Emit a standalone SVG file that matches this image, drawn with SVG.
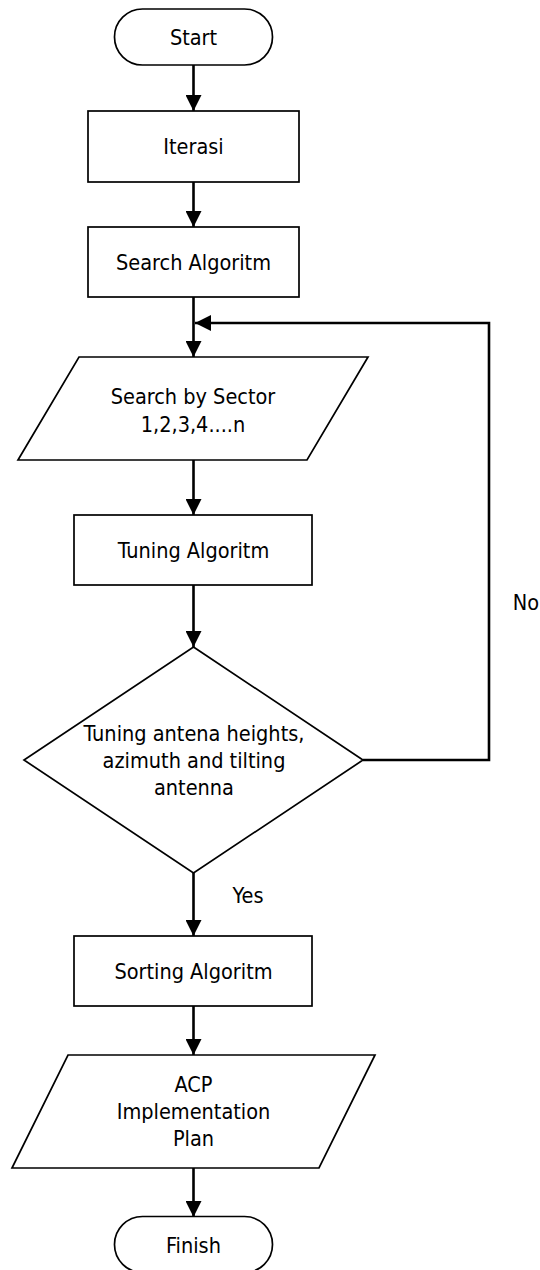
<svg xmlns="http://www.w3.org/2000/svg" width="540" height="1270" viewBox="0 0 540 1270">
<defs>
<style>
.shape{fill:#fff;stroke:#000;stroke-width:1.7}
.t{font-family:'DejaVu Sans Condensed','DejaVu Sans',sans-serif;font-size:21.5px;fill:#000;text-anchor:middle}
.c{fill:none;stroke:#000;stroke-width:2.6}
</style>
<marker id="ah" markerWidth="16" markerHeight="16" viewBox="0 0 16 16" refX="16" refY="8" orient="auto" markerUnits="userSpaceOnUse">
<path d="M0,0 L16,8 L0,16 Z" fill="#000"/>
</marker>
</defs>
<rect width="540" height="1270" fill="#fff"/>
<g id="connectors">
<line class="c" x1="193.5" y1="65" x2="193.5" y2="111" marker-end="url(#ah)"/>
<line class="c" x1="193.5" y1="182" x2="193.5" y2="227" marker-end="url(#ah)"/>
<line class="c" x1="193.5" y1="297" x2="193.5" y2="357" marker-end="url(#ah)"/>
<polyline class="c" points="363,760 489,760 489,323 195,323" marker-end="url(#ah)"/>
<line class="c" x1="193.5" y1="460" x2="193.5" y2="515" marker-end="url(#ah)"/>
<line class="c" x1="193.5" y1="585" x2="193.5" y2="647" marker-end="url(#ah)"/>
<line class="c" x1="193.5" y1="873" x2="193.5" y2="936" marker-end="url(#ah)"/>
<line class="c" x1="193.5" y1="1006" x2="193.5" y2="1055" marker-end="url(#ah)"/>
<line class="c" x1="193.5" y1="1168" x2="193.5" y2="1217" marker-end="url(#ah)"/>
<text class="t" x="248" y="903">Yes</text>
<text class="t" x="526" y="610">No</text>
</g>
<g id="start">
<rect class="shape" x="114.5" y="9" width="158" height="56" rx="28"/>
<text class="t" x="193.5" y="45">Start</text>
</g>
<g id="iterasi">
<rect class="shape" x="88" y="111" width="211" height="71"/>
<text class="t" x="193.5" y="154">Iterasi</text>
</g>
<g id="search">
<rect class="shape" x="88" y="227" width="211" height="70"/>
<text class="t" x="193.5" y="270">Search Algoritm</text>
</g>
<g id="sector">
<polygon class="shape" points="79,357 368,357 307,460 18,460"/>
<text class="t" x="193" y="404">Search by Sector</text>
<text class="t" x="193" y="432">1,2,3,4....n</text>
</g>
<g id="tuning">
<rect class="shape" x="74" y="515" width="238" height="70"/>
<text class="t" x="193.5" y="558">Tuning Algoritm</text>
</g>
<g id="decision">
<polygon class="shape" points="193.5,647 363,760 193.5,873 24,760"/>
<text class="t" x="194" y="741">Tuning antena heights,</text>
<text class="t" x="194" y="768">azimuth and tilting</text>
<text class="t" x="194" y="795">antenna</text>
</g>
<g id="sorting">
<rect class="shape" x="74" y="936" width="238" height="70"/>
<text class="t" x="193.5" y="979">Sorting Algoritm</text>
</g>
<g id="acp">
<polygon class="shape" points="68,1055 375,1055 319,1168 12,1168"/>
<text class="t" x="193.5" y="1092">ACP</text>
<text class="t" x="193.5" y="1119">Implementation</text>
<text class="t" x="193.5" y="1146">Plan</text>
</g>
<g id="finish">
<rect class="shape" x="114.5" y="1216.5" width="158" height="56" rx="28"/>
<text class="t" x="193.5" y="1253">Finish</text>
</g>
</svg>
